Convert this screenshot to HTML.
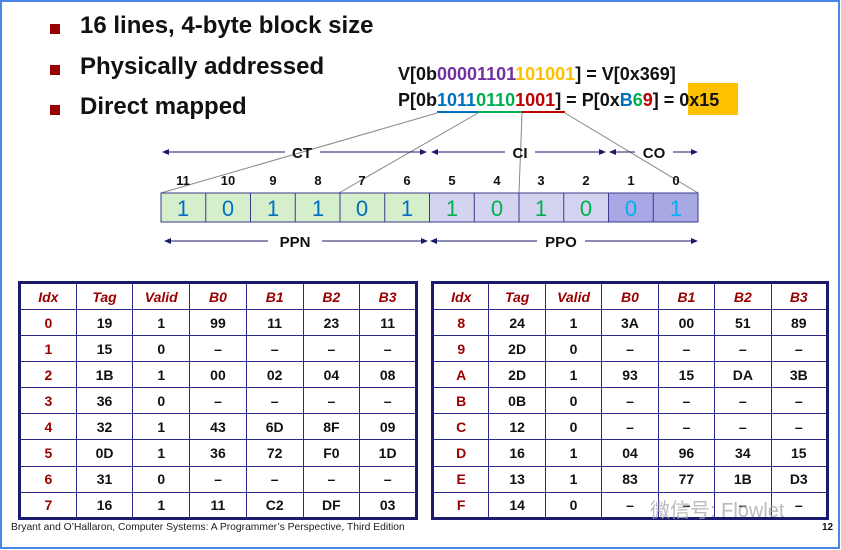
<!DOCTYPE html>
<html><head><meta charset="utf-8"><style>
*{margin:0;padding:0;box-sizing:border-box}
body{width:841px;height:550px;background:#fff;position:relative;overflow:hidden;font-family:"Liberation Sans",sans-serif}
#frame{position:absolute;left:0;top:0;width:840px;height:549px;border:2px solid #4a86e8}
.b{position:absolute;font-weight:bold;font-size:24px;color:#111;left:80px}
.sq{position:absolute;left:50px;width:10px;height:10px;background:#990000}
table{position:absolute;border-collapse:collapse;border:3px solid #1a1a6e;font-weight:bold;font-size:14px;color:#111;table-layout:fixed}
td{border:1px solid #2a2a8a;text-align:center;height:26.1px;padding:0}
tr:first-child td{color:#990000;font-style:italic;height:27px}
td:first-child{color:#990000}
.foot{position:absolute;left:11px;top:522px;font-size:10.3px;color:#222}
</style></head><body>
<div id="frame"></div>
<div class="sq" style="top:24px"></div><div class="b" style="top:12px">16 lines, 4-byte block size</div>
<div class="sq" style="top:65px"></div><div class="b" style="top:53px">Physically addressed</div>
<div class="sq" style="top:105px"></div><div class="b" style="top:93px">Direct mapped</div>
<svg width="841" height="550" style="position:absolute;left:0;top:0" font-family="Liberation Sans, sans-serif" font-weight="bold">
<rect x="688" y="83" width="50" height="32" fill="#ffc000"/>
<text x="398" y="80" font-size="18" fill="#111">V[0b<tspan fill="#7030a0">00001101</tspan><tspan fill="#ffc000">101001</tspan>] = V[0x369]</text>
<text x="398" y="106" font-size="18" fill="#111">P[0b<tspan fill="#0070c0">1011</tspan><tspan fill="#00b050">0110</tspan><tspan fill="#c00000">1001</tspan>] = P[0x<tspan fill="#0070c0">B</tspan><tspan fill="#00b050">6</tspan><tspan fill="#c00000">9</tspan>] = 0x15</text>
<line x1="437" y1="112" x2="478" y2="112" stroke="#0070c0" stroke-width="2"/>
<line x1="478" y1="112" x2="522" y2="112" stroke="#00b050" stroke-width="2"/>
<line x1="522" y1="112" x2="565" y2="112" stroke="#c00000" stroke-width="2"/>
<g stroke="#888" stroke-width="1">
<line x1="437" y1="113" x2="161" y2="193"/><line x1="478" y1="113" x2="339" y2="193"/>
<line x1="522" y1="113" x2="519" y2="193"/><line x1="565" y1="113" x2="698" y2="193"/>
</g>
<rect x="161" y="193" width="268.5" height="29" fill="#d5eecb" stroke="#3a3a8a"/>
<rect x="429.5" y="193" width="179" height="29" fill="#d4d4f0" stroke="#3a3a8a"/>
<rect x="608.5" y="193" width="89.5" height="29" fill="#a8a8e4" stroke="#3a3a8a"/>
<g stroke="#3a3a8a">
<line x1="205.75" y1="193" x2="205.75" y2="222"/><line x1="250.5" y1="193" x2="250.5" y2="222"/><line x1="295.25" y1="193" x2="295.25" y2="222"/><line x1="340" y1="193" x2="340" y2="222"/><line x1="384.75" y1="193" x2="384.75" y2="222"/><line x1="474.25" y1="193" x2="474.25" y2="222"/><line x1="519" y1="193" x2="519" y2="222"/><line x1="563.75" y1="193" x2="563.75" y2="222"/><line x1="653.25" y1="193" x2="653.25" y2="222"/>
</g>
<g font-size="22" font-weight="normal" text-anchor="middle">
<text x="183" y="216" fill="#0070c0">1</text><text x="228" y="216" fill="#0070c0">0</text><text x="273" y="216" fill="#0070c0">1</text><text x="318" y="216" fill="#0070c0">1</text><text x="362" y="216" fill="#0070c0">0</text><text x="407" y="216" fill="#0070c0">1</text>
<text x="452" y="216" fill="#00b050">1</text><text x="497" y="216" fill="#00b050">0</text><text x="541" y="216" fill="#00b050">1</text><text x="586" y="216" fill="#00b050">0</text>
<text x="631" y="216" fill="#00b0f0">0</text><text x="676" y="216" fill="#00b0f0">1</text>
</g>
<g font-size="13" text-anchor="middle" fill="#111">
<text x="183" y="185">11</text><text x="228" y="185">10</text><text x="273" y="185">9</text><text x="318" y="185">8</text><text x="362" y="185">7</text><text x="407" y="185">6</text><text x="452" y="185">5</text><text x="497" y="185">4</text><text x="541" y="185">3</text><text x="586" y="185">2</text><text x="631" y="185">1</text><text x="676" y="185">0</text>
</g>
<g stroke="#1a1a6e" stroke-width="1">
<line x1="164" y1="152" x2="285" y2="152"/><line x1="320" y1="152" x2="425" y2="152"/>
<line x1="433" y1="152" x2="505" y2="152"/><line x1="535" y1="152" x2="603" y2="152"/>
<line x1="611" y1="152" x2="635" y2="152"/><line x1="673" y1="152" x2="695" y2="152"/>
<line x1="166" y1="241" x2="268" y2="241"/><line x1="322" y1="241" x2="425" y2="241"/>
<line x1="433" y1="241" x2="537" y2="241"/><line x1="585" y1="241" x2="695" y2="241"/>
</g>
<g fill="#1a1a6e">
<path d="M162 152l7-3v6z"/><path d="M427 152l-7-3v6z"/><path d="M431 152l7-3v6z"/><path d="M606 152l-7-3v6z"/><path d="M609 152l7-3v6z"/><path d="M698 152l-7-3v6z"/>
<path d="M164 241l7-3v6z"/><path d="M428 241l-7-3v6z"/><path d="M430 241l7-3v6z"/><path d="M698 241l-7-3v6z"/>
</g>
<g font-size="15" fill="#111" text-anchor="middle">
<text x="302" y="158">CT</text><text x="520" y="158">CI</text><text x="654" y="158">CO</text>
<text x="295" y="247">PPN</text><text x="561" y="247">PPO</text>
</g>
<text x="822" y="530" font-size="10" fill="#111">12</text>
</svg>
<table style="left:18px;top:281px;width:400px">
<tr><td>Idx</td><td>Tag</td><td>Valid</td><td>B0</td><td>B1</td><td>B2</td><td>B3</td></tr>
<tr><td>0</td><td>19</td><td>1</td><td>99</td><td>11</td><td>23</td><td>11</td></tr>
<tr><td>1</td><td>15</td><td>0</td><td>–</td><td>–</td><td>–</td><td>–</td></tr>
<tr><td>2</td><td>1B</td><td>1</td><td>00</td><td>02</td><td>04</td><td>08</td></tr>
<tr><td>3</td><td>36</td><td>0</td><td>–</td><td>–</td><td>–</td><td>–</td></tr>
<tr><td>4</td><td>32</td><td>1</td><td>43</td><td>6D</td><td>8F</td><td>09</td></tr>
<tr><td>5</td><td>0D</td><td>1</td><td>36</td><td>72</td><td>F0</td><td>1D</td></tr>
<tr><td>6</td><td>31</td><td>0</td><td>–</td><td>–</td><td>–</td><td>–</td></tr>
<tr><td>7</td><td>16</td><td>1</td><td>11</td><td>C2</td><td>DF</td><td>03</td></tr>
</table>
<table style="left:431px;top:281px;width:398px">
<tr><td>Idx</td><td>Tag</td><td>Valid</td><td>B0</td><td>B1</td><td>B2</td><td>B3</td></tr>
<tr><td>8</td><td>24</td><td>1</td><td>3A</td><td>00</td><td>51</td><td>89</td></tr>
<tr><td>9</td><td>2D</td><td>0</td><td>–</td><td>–</td><td>–</td><td>–</td></tr>
<tr><td>A</td><td>2D</td><td>1</td><td>93</td><td>15</td><td>DA</td><td>3B</td></tr>
<tr><td>B</td><td>0B</td><td>0</td><td>–</td><td>–</td><td>–</td><td>–</td></tr>
<tr><td>C</td><td>12</td><td>0</td><td>–</td><td>–</td><td>–</td><td>–</td></tr>
<tr><td>D</td><td>16</td><td>1</td><td>04</td><td>96</td><td>34</td><td>15</td></tr>
<tr><td>E</td><td>13</td><td>1</td><td>83</td><td>77</td><td>1B</td><td>D3</td></tr>
<tr><td>F</td><td>14</td><td>0</td><td>–</td><td>–</td><td>–</td><td>–</td></tr>
</table>
<div style="position:absolute;left:650px;top:494px;font-size:20px;color:rgba(170,170,170,0.8);font-family:'Liberation Sans','Noto Sans CJK SC',sans-serif">微信号: Flowlet</div>
<div class="foot">Bryant and O’Hallaron, Computer Systems: A Programmer’s Perspective, Third Edition</div>
</body></html>
